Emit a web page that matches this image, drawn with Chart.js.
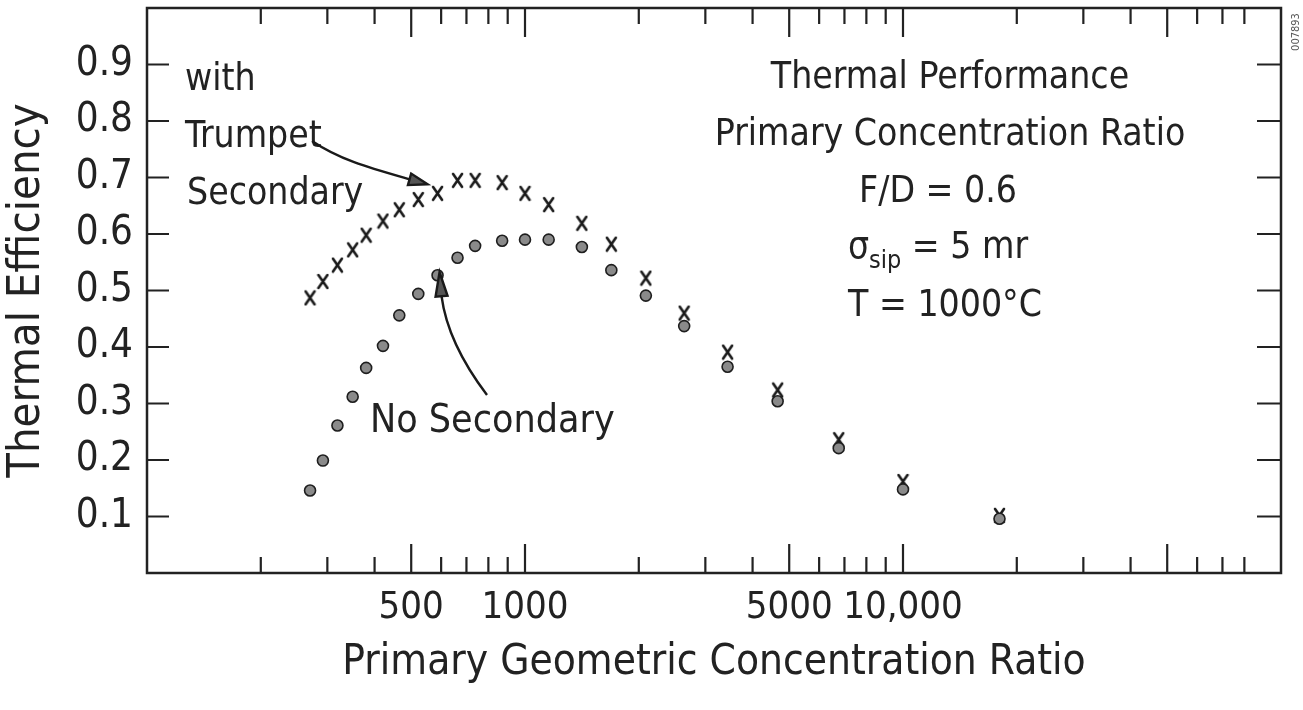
<!DOCTYPE html>
<html>
<head>
<meta charset="utf-8">
<script src="https://cdn.jsdelivr.net/npm/chart.js@4.4.1/dist/chart.umd.min.js"></script>
<style>
html, body { margin: 0; padding: 0; background: #fff; }
</style>
</head>
<body>
<canvas id="grafica" width="1303" height="710"></canvas>
<script>
// razon de concentracion geometrica primaria (eje x, logaritmico)
const razon = [270, 292, 319, 350, 380, 421, 465, 522, 587, 663, 738, 870, 1000, 1155, 1414, 1692, 2088, 2637, 3435, 4660, 6760, 10000, 18000];
// eficiencia termica con secundario tipo trompeta (x)
const conTrompeta = [0.487, 0.516, 0.545, 0.572, 0.598, 0.623, 0.643, 0.661, 0.672, 0.695, 0.695, 0.691, 0.672, 0.652, 0.619, 0.582, 0.522, 0.460, 0.391, 0.324, 0.236, 0.162, 0.102];
// eficiencia termica sin secundario (puntos)
const sinSecundario = [0.146, 0.199, 0.261, 0.312, 0.363, 0.402, 0.456, 0.494, 0.527, 0.558, 0.579, 0.588, 0.590, 0.590, 0.577, 0.536, 0.491, 0.437, 0.365, 0.304, 0.221, 0.148, 0.096];

// marcas y etiquetas de los ejes
const marcasX = [200, 300, 400, 500, 600, 700, 800, 900, 1000, 2000, 3000, 4000, 5000, 6000, 7000, 8000, 9000, 10000, 20000, 30000, 40000, 50000, 60000, 70000, 80000];
const marcasLargasX = [500, 1000, 5000, 10000, 50000];
const etiquetasX = [500, 1000, 5000, 10000];
const textosX = ["500", "1000", "5000", "10,000"];
const marcasY = [0.1, 0.2, 0.3, 0.4, 0.5, 0.6, 0.7, 0.8, 0.9];

const fuente = "'DejaVu Sans Condensed', 'Liberation Sans Narrow', 'DejaVu Sans', sans-serif";
const tinta = "#222";

// marca en forma de "x" dibujada a mano
function crearMarcaX() {
    let c = document.createElement("canvas");
    c.width = 13;
    c.height = 17;
    let g = c.getContext("2d");
    g.strokeStyle = "#1a1a1a";
    g.lineWidth = 2.6;
    g.lineCap = "round";
    g.beginPath();
    g.moveTo(2, 2); g.lineTo(11, 15);
    g.moveTo(11, 2); g.lineTo(2, 15);
    g.stroke();
    return c;
}

function flecha(g, x0, y0, cx1, cy1, cx2, cy2, x1, y1, tx, ty) {
    g.beginPath();
    g.moveTo(x0, y0);
    g.bezierCurveTo(cx1, cy1, cx2, cy2, x1, y1);
    g.stroke();
    // punta
    let ang = Math.atan2(ty - y1, tx - x1);
    let ancho = 6;
    g.beginPath();
    g.moveTo(tx, ty);
    g.lineTo(x1 - Math.sin(ang) * ancho, y1 + Math.cos(ang) * ancho);
    g.lineTo(x1 + Math.sin(ang) * ancho, y1 - Math.cos(ang) * ancho);
    g.closePath();
    g.fillStyle = "#555";
    g.fill();
    g.stroke();
}

const marco = {
    id: "marco",
    afterDraw(chart) {
        const g = chart.ctx;
        const a = chart.chartArea;
        const sx = chart.scales.x;
        const sy = chart.scales.y;
        g.save();
        g.strokeStyle = tinta;
        g.lineWidth = 2.5;
        g.strokeRect(a.left, a.top, a.right - a.left, a.bottom - a.top);

        // marcas hacia adentro
        g.lineWidth = 2.2;
        g.beginPath();
        marcasX.forEach(v => {
            let px = sx.getPixelForValue(v);
            let l = marcasLargasX.includes(v) ? 29 : 16;
            g.moveTo(px, a.bottom); g.lineTo(px, a.bottom - l);
            g.moveTo(px, a.top); g.lineTo(px, a.top + l);
        });
        marcasY.forEach(v => {
            let py = sy.getPixelForValue(v);
            g.moveTo(a.left, py); g.lineTo(a.left + 22, py);
            g.moveTo(a.right, py); g.lineTo(a.right - 24, py);
        });
        g.stroke();

        // textos
        g.fillStyle = tinta;
        g.font = "37px " + fuente;
        g.textBaseline = "alphabetic";
        g.textAlign = "left";
        g.fillText("with", 185, 90);
        g.fillText("Trumpet", 185, 147);
        g.fillText("Secondary", 187, 204);
        g.font = "39px " + fuente;
        g.fillText("No Secondary", 370, 432);

        let cx = 950;
        g.font = "37px " + fuente;
        g.textAlign = "center";
        g.fillText("Thermal Performance", cx, 88);
        g.fillText("Primary Concentration Ratio", cx, 145);
        g.fillText("F/D = 0.6", cx - 12, 202);
        g.fillText("T = 1000°C", cx - 5, 316);

        // sigma con subindice
        g.textAlign = "left";
        let w1 = g.measureText("σ").width;
        let w3 = g.measureText(" = 5 mr").width;
        g.font = "25px " + fuente;
        let w2 = g.measureText("sip").width;
        let x0 = cx - 12 - (w1 + w2 + w3) / 2;
        g.font = "37px " + fuente;
        g.fillText("σ", x0, 258);
        g.font = "25px " + fuente;
        g.fillText("sip", x0 + w1, 268);
        g.font = "37px " + fuente;
        g.fillText(" = 5 mr", x0 + w1 + w2, 258);

        // flechas hacia los datos
        g.lineWidth = 2.4;
        g.strokeStyle = "#1a1a1a";
        let tx = sx.getPixelForValue(razon[8]) - 10;
        let ty = sy.getPixelForValue(conTrompeta[8]) - 9;
        flecha(g, 312, 141, 340, 160, 370, 168, tx - 18, ty - 5, tx, ty);
        let ux = sx.getPixelForValue(razon[8]) + 2;
        let uy = sy.getPixelForValue(sinSecundario[8]) - 3;
        flecha(g, 487, 395, 462, 362, 446, 330, ux + 2, uy + 24, ux, uy);

        // codigo de figura
        g.save();
        g.translate(1296, 32);
        g.rotate(-Math.PI / 2);
        g.font = "11px " + fuente;
        g.textAlign = "center";
        g.textBaseline = "middle";
        g.fillText("007893", 0, 0);
        g.restore();

        g.restore();
    }
};

const ctx = document.getElementById("grafica").getContext("2d");
const grafica = new Chart(ctx, {
    type: "scatter",
    data: {
        datasets: [
            {
                label: "with Trumpet Secondary",
                data: razon.map((r, i) => ({ x: r, y: conTrompeta[i] })),
                pointStyle: crearMarcaX(),
                pointRadius: 7,
                order: 2
            },
            {
                label: "No Secondary",
                data: razon.map((r, i) => ({ x: r, y: sinSecundario[i] })),
                pointStyle: "circle",
                pointRadius: 5.5,
                backgroundColor: "#8a8a8a",
                borderColor: "#1e1e1e",
                borderWidth: 1.6,
                order: 1
            }
        ]
    },
    options: {
        responsive: false,
        animation: false,
        devicePixelRatio: 1,
        layout: { padding: { top: 8, right: 22, left: 0, bottom: 0 } },
        plugins: { legend: { display: false }, tooltip: { enabled: false } },
        scales: {
            x: {
                type: "logarithmic",
                min: 100,
                max: 100000,
                grid: { display: false, drawTicks: false },
                border: { display: false },
                afterBuildTicks: s => { s.ticks = etiquetasX.map(v => ({ value: v })); },
                afterFit: s => {
                    s.height = 137;
                    s.paddingLeft = 0;
                    s.paddingRight = 0;
                },
                ticks: {
                    autoSkip: false,
                    maxRotation: 0,
                    padding: 12,
                    color: tinta,
                    font: { family: fuente, size: 38 },
                    callback: v => {
                        let i = etiquetasX.indexOf(v);
                        return i >= 0 ? textosX[i] : "";
                    }
                },
                title: {
                    display: true,
                    text: "Primary Geometric Concentration Ratio",
                    color: tinta,
                    font: { family: fuente, size: 42 },
                    padding: { top: 0, bottom: 22 }
                }
            },
            y: {
                min: 0,
                max: 1,
                grid: { display: false, drawTicks: false },
                border: { display: false },
                afterBuildTicks: s => { s.ticks = marcasY.map(v => ({ value: v })); },
                afterFit: s => {
                    s.width = 147;
                    s.paddingTop = 0;
                    s.paddingBottom = 0;
                },
                ticks: {
                    padding: 14,
                    color: tinta,
                    font: { family: fuente, size: 40 },
                    callback: v => v.toFixed(1)
                },
                title: {
                    display: true,
                    text: "Thermal Efficiency",
                    color: tinta,
                    font: { family: fuente, size: 45 },
                    padding: { top: 0, bottom: 0 }
                }
            }
        }
    },
    plugins: [marco]
});
</script>
</body>
</html>
